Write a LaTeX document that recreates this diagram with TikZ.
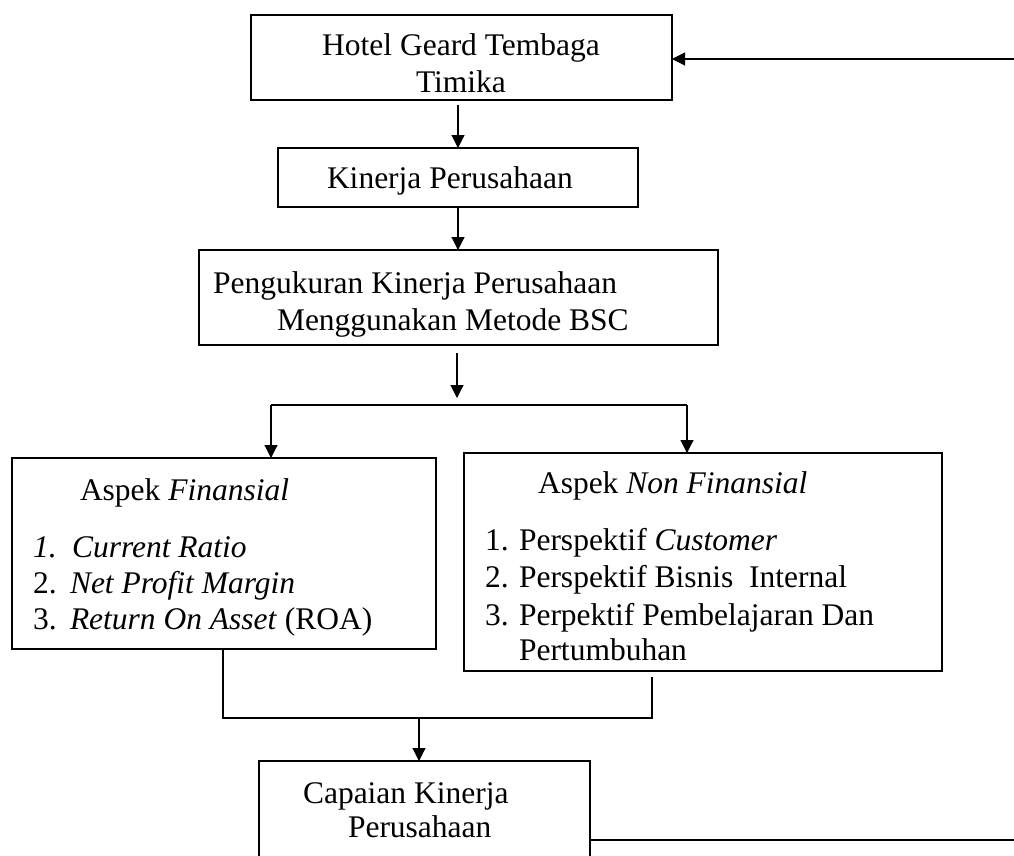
\documentclass[tikz,border=0pt]{standalone}
\usepackage{fontspec}
\setmainfont{Liberation Serif}
\usetikzlibrary{arrows.meta}
\tikzset{
  box/.style={draw, line width=2pt, rectangle, inner sep=0pt, outer sep=0pt},
  txt/.style={inner sep=0pt, outer sep=0pt, anchor=base west, font=\fontsize{31.5}{37}\selectfont},
  ctxt/.style={txt, anchor=base},
  conn/.style={line width=1.1pt},
  arr/.style={conn, -{Triangle[length=13pt,width=13pt]}}
}
\begin{document}
\begin{tikzpicture}[x=1pt,y=-1pt]
\clip (0,0) rectangle (1014,855);
\fill[white] (0,0) rectangle (1014,855);
% boxes
\node[box, minimum width=421pt, minimum height=85pt] (b1) at (461.5,57.5) {};
\node[box, minimum width=360pt, minimum height=59pt] (b2) at (458,177.5) {};
\node[box, minimum width=519pt, minimum height=95pt] (b3) at (458.5,297.5) {};
\node[box, minimum width=424pt, minimum height=191pt] (b4) at (224,553.5) {};
\node[box, minimum width=478pt, minimum height=218pt] (b5) at (703,562) {};
\node[box, minimum width=331pt, minimum height=119pt] (b6) at (424.5,820.5) {};
% texts
\node[ctxt] (t1a) at (461,55) {Hotel Geard Tembaga};
\node[ctxt] (t1b) at (461,92) {Timika};
\node[txt] (t2) at (327,188) {Kinerja Perusahaan};
\node[txt] (t3a) at (213,293) {Pengukuran Kinerja Perusahaan};
\begin{scope}
\clip (200,300) rectangle (717,336);
\node[txt] (t3b) at (277,330) {Menggunakan Metode BSC};
\end{scope}
\node[txt] (t4h) at (80,500) {Aspek \textit{Finansial}};
\node[txt] (t4n1) at (33,557) {\textit{1.}};
\node[txt] (t4i1) at (72,557) {\textit{Current Ratio}};
\node[txt] (t4n2) at (33,593) {2.};
\node[txt] (t4i2) at (70,593) {\textit{Net Profit Margin}};
\node[txt] (t4n3) at (33,629) {3.};
\node[txt] (t4i3) at (70,629) {\textit{Return On Asset} (ROA)};
\node[txt] (t5h) at (538,493) {Aspek \textit{Non Finansial}};
\node[txt] (t5n1) at (485,550) {1.};
\node[txt] (t5i1) at (519,550) {Perspektif \textit{Customer}};
\node[txt] (t5n2) at (485,587) {2.};
\node[txt] (t5i2) at (519,587) {Perspektif Bisnis\ \ Internal};
\node[txt] (t5n3) at (485,625) {3.};
\node[txt] (t5i3) at (519,625) {Perpektif Pembelajaran Dan};
\begin{scope}
\clip (465,630) rectangle (940,662);
\node[txt] (t5i3b) at (519,660) {Pertumbuhan};
\end{scope}
\node[txt] (t6a) at (303,803) {Capaian Kinerja};
\node[txt] (t6b) at (348,837) {Perusahaan};
% junction coordinates
\coordinate (sp) at (457,405);
\coordinate (spl) at (271,405);
\coordinate (spr) at (687,405);
\coordinate (ml) at (223,718);
\coordinate (mr) at (652,718);
\coordinate (mm) at (419,718);
\coordinate (r5) at (652,677);
\coordinate (fbtop) at (1014,59);
\coordinate (fbbot) at (1014,840);
% connectors
\draw[arr, shorten <=5pt] (b1.south -| b2.north) -- (b2.north);
\draw[arr] (b2.south) -- (b3.north -| b2.south);
\draw[arr, shorten <=8pt, shorten >=7pt] (b3.south -| sp) -- (sp);
\draw[conn] (spl) -- (spr);
\draw[arr] (spl) -- (spl |- b4.north);
\draw[arr] (spr) -- (spr |- b5.north);
\draw[conn] (b4.south -| ml) -- (ml) -- (mr) -- (r5);
\draw[arr] (mm) -- (mm |- b6.north);
\draw[conn] (fbbot -| b6.east) -- (fbbot);
\draw[arr] (fbtop) -- (fbtop -| b1.east);
\end{tikzpicture}
\end{document}
